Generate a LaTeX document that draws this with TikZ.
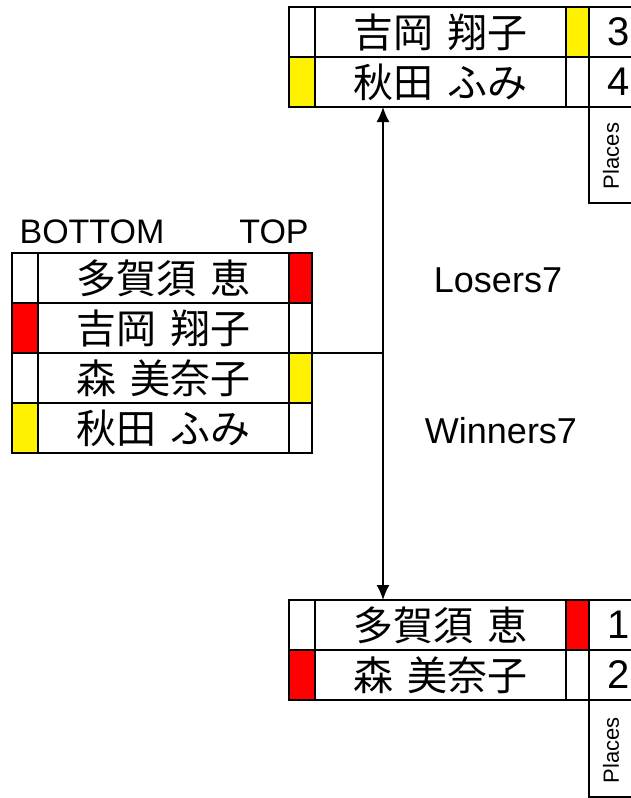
\documentclass[tikz,border=0pt]{standalone}
\usepackage{fontspec}
\setmainfont{Liberation Sans}
\newfontfamily\jpfont[WordSpace=1.6]{Noto Sans CJK JP}
\usetikzlibrary{positioning,arrows.meta}

\begin{document}
\begin{tikzpicture}[x=1pt,y=1pt,
  cell/.style={draw, line width=2.5pt, minimum height=50pt, inner sep=0pt, outer sep=0pt},
  lflag/.style={cell, minimum width=26pt},
  rflag/.style={cell, minimum width=23pt},
  entrant/.style={cell, minimum width=251pt, font=\jpfont\fontsize{40}{42}\selectfont},
  place/.style={cell, minimum width=60pt, font=\fontsize{40}{42}\selectfont},
  heading/.style={font=\fontsize{34}{36}\selectfont},
  matchlabel/.style={font=\fontsize{36}{38}\selectfont},
  placeslabel/.style={rotate=90, font=\fontsize{22}{24}\selectfont},
  link/.style={line width=1.5pt}]
\useasboundingbox (0,0) rectangle (630,-798);
% left table
\node [heading] (bottom) at (92,-232) {BOTTOM};
\node [heading] (top) at (274,-232) {TOP};
\node [lflag, anchor=north west] (l1a) at (12,-253) {};
\node [entrant, right=0pt of l1a] (l1) {多賀須 恵};
\node [rflag, fill=red, right=0pt of l1] (l1b) {};
\node [lflag, fill=red, below=0pt of l1a] (l2a) {};
\node [entrant, right=0pt of l2a] (l2) {吉岡 翔子};
\node [rflag, right=0pt of l2] (l2b) {};
\node [lflag, below=0pt of l2a] (l3a) {};
\node [entrant, right=0pt of l3a] (l3) {森 美奈子};
\node [rflag, fill=yellow, right=0pt of l3] (l3b) {};
\node [lflag, fill=yellow, below=0pt of l3a] (l4a) {};
\node [entrant, right=0pt of l4a] (l4) {秋田 ふみ};
\node [rflag, right=0pt of l4] (l4b) {};
% losers table
\node [lflag, anchor=north west] (t1a) at (289,-7) {};
\node [entrant, right=0pt of t1a] (t1) {吉岡 翔子};
\node [rflag, fill=yellow, right=0pt of t1] (t1b) {};
\node [place, right=0pt of t1b] (t1p) {3};
\node [lflag, fill=yellow, below=0pt of t1a] (t2a) {};
\node [entrant, right=0pt of t2a] (t2) {秋田 ふみ};
\node [rflag, right=0pt of t2] (t2b) {};
\node [place, right=0pt of t2b] (t2p) {4};
\node [placeslabel] (tplaces) at (611,-156) {Places};
\draw [line width=2.5pt] (t2p.south west) |- (660,-203);
% winners table
\node [lflag, anchor=north west] (w1a) at (289,-600) {};
\node [entrant, right=0pt of w1a] (w1) {多賀須 恵};
\node [rflag, fill=red, right=0pt of w1] (w1b) {};
\node [place, right=0pt of w1b] (w1p) {1};
\node [lflag, fill=red, below=0pt of w1a] (w2a) {};
\node [entrant, right=0pt of w2a] (w2) {森 美奈子};
\node [rflag, right=0pt of w2] (w2b) {};
\node [place, right=0pt of w2b] (w2p) {2};
\node [placeslabel] (wplaces) at (611,-750) {Places};
\draw [line width=2.5pt] (w2p.south west) |- (660,-797);
% match
\coordinate (fork) at (383,-353);
\draw [link] (l3b.north east) -- (fork);
\draw [link, -{Latex[length=15pt,width=13pt]}] (fork) -- (fork |- t2.south);
\draw [link, -{Latex[length=15pt,width=13pt]}] (fork) -- (fork |- w1.north);
\node [matchlabel] (losers) at (498,-280) {Losers7};
\node [matchlabel] (winners) at (501,-431) {Winners7};
\end{tikzpicture}
\end{document}
